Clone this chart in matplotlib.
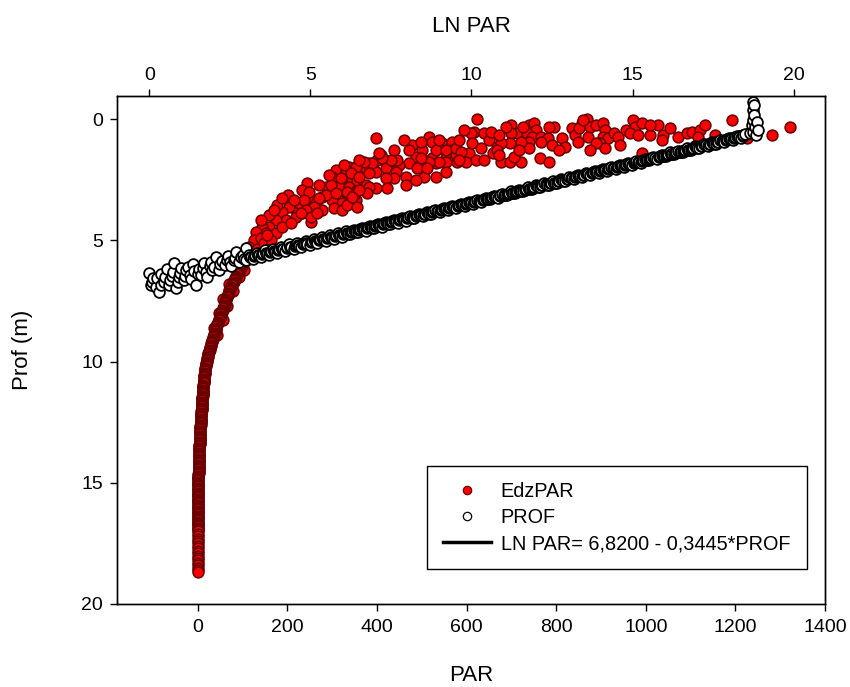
import matplotlib

matplotlib.use("Agg")
import matplotlib.pyplot as plt
from matplotlib.lines import Line2D

plt.rcParams["font.family"] = ["Liberation Sans", "DejaVu Sans"]

# EdzPAR (red): PAR on the bottom axis vs depth (m)
# surface cloud, depth < ~5.5 m
cloud_par = [
    201, 244, 233, 248, 309, 331, 349, 300, 322, 344, 286, 315, 338, 356, 333, 353, 322, 300, 277, 264,
    242, 219, 204, 188, 219, 197, 174, 159, 143, 130, 152, 174, 188, 208, 233, 255, 277, 304, 322, 125,
    141, 114, 132, 148, 163, 159, 177, 226, 253,
    398, 624, 617, 640, 611, 517, 523, 479, 501, 499, 546, 568, 566, 555, 577, 590, 606, 613, 633, 651,
    658, 667, 523, 532, 512, 488, 472, 450, 427, 409, 400, 382, 376, 394, 420, 443, 555, 579, 599, 622,
    640, 555, 532, 505, 465, 465, 438, 420, 398, 423, 398, 376, 356, 338, 320, 297, 286, 309, 333, 349,
    333, 271, 259, 248, 237, 242, 253, 230, 266,
    532, 555, 577, 588, 584, 539, 517, 499, 445, 432, 412, 405, 389, 371, 353, 342, 360, 382, 490, 512,
    488, 382, 378, 360, 356, 344,
    700, 740, 751, 756, 713, 700, 734, 747, 767, 781, 796, 812, 836, 841, 857, 868, 852, 875, 890, 870,
    904, 908, 904, 915, 930, 937, 897, 908, 848, 819, 790, 767, 740, 740, 722, 696, 678, 655, 667, 678,
    696, 722, 707, 673, 763, 785, 957, 971, 975, 991, 964, 982, 1009, 1027, 1038, 1036, 1071, 1091, 991, 1103,
    1121, 1116, 1192, 1282, 1322, 1226, 689, 725, 785, 859, 890,
    188, 170, 141, 154, 215, 271, 293, 327, 360, 438, 472, 461, 539, 584, 595, 673, 718, 807, 875, 942,
    1009, 1053, 1132, 1154,
]
cloud_depth = [
    3.12, 2.62, 2.91, 3.20, 2.09, 2.09, 2.21, 2.38, 2.50, 2.50, 2.79, 2.79, 2.79, 2.91, 3.12, 3.32, 3.45, 3.32, 3.20, 3.45,
    3.61, 3.74, 3.61, 3.82, 4.02, 4.15, 4.15, 4.44, 4.44, 4.64, 4.68, 4.68, 4.44, 4.27, 3.86, 3.82, 3.74, 3.65, 3.74, 4.97,
    4.89, 5.26, 5.37, 5.10, 4.97, 3.94, 3.53, 3.45, 4.23,
    0.77, 0.00, 0.52, 0.56, 0.56, 0.73, 0.94, 1.06, 1.26, 0.94, 0.98, 0.94, 1.26, 1.39, 1.47, 1.39, 1.39, 0.98, 1.18, 0.85,
    1.39, 1.14, 1.59, 1.80, 1.88, 1.55, 1.80, 1.88, 1.76, 1.47, 1.68, 1.80, 2.01, 2.09, 2.01, 2.17, 1.76, 1.76, 1.76, 1.68,
    1.68, 2.17, 2.38, 2.38, 2.38, 2.71, 2.42, 2.42, 2.17, 2.83, 2.83, 2.71, 2.50, 1.96, 2.42, 2.71, 3.12, 3.04, 2.99, 3.12,
    3.53, 3.24, 3.61, 2.99, 3.32, 3.74, 4.02, 3.86, 3.86,
    1.26, 1.26, 1.18, 1.35, 1.68, 1.76, 1.76, 1.59, 1.68, 1.68, 1.59, 1.39, 1.80, 1.76, 1.96, 2.21, 2.38, 2.21, 2.01, 2.01,
    2.50, 2.79, 3.04, 2.91, 3.61, 3.20,
    0.23, 0.23, 0.15, 0.44, 0.56, 0.56, 0.56, 0.73, 0.73, 0.77, 0.32, 0.77, 0.36, 0.65, 0.15, 0.00, 0.36, 0.32, 0.23, 0.73,
    0.15, 0.44, 0.73, 0.77, 0.56, 0.73, 0.98, 1.18, 0.94, 1.14, 1.06, 0.94, 0.94, 1.18, 0.94, 0.98, 0.98, 0.52, 1.26, 1.76,
    1.76, 1.76, 1.55, 1.47, 1.59, 1.76, 0.44, 0.03, 0.32, 0.15, 0.56, 0.65, 0.65, 0.23, 0.65, 0.85, 0.73, 0.56, 1.39, 0.52,
    0.44, 0.73, 0.03, 0.65, 0.32, 0.77, 0.32, 0.32, 0.32, 0.03, 0.98,
    3.24, 3.74, 4.15, 4.77, 3.32, 2.71, 2.29, 1.88, 1.68, 1.26, 1.26, 0.85, 0.85, 0.85, 0.44, 0.65, 1.26, 1.26, 1.26, 1.06,
    0.23, 0.36, 0.23, 0.65,
]

# deep tail of the profile
tail_depth = [
    5.4, 5.5, 5.6, 5.7, 5.8, 5.9, 6.0, 6.1, 6.2, 6.3, 6.4, 6.5, 6.6, 6.7, 6.8, 6.9,
    7.0, 7.1, 7.2, 7.3, 7.4, 7.5, 7.6, 7.7, 7.8, 7.9, 8.0, 8.1, 8.2, 8.3, 8.4, 8.5,
    8.6, 8.7, 8.8, 8.9, 9.0, 9.1, 9.2, 9.3, 9.4, 9.5, 9.6, 9.7, 9.8, 9.9, 10.0, 10.1,
    10.2, 10.3, 10.4, 10.5, 10.6, 10.7, 10.8, 10.9, 11.0, 11.1, 11.2, 11.3, 11.4, 11.5, 11.6, 11.7,
    11.8, 11.9, 12.0, 12.1, 12.2, 12.3, 12.4, 12.5, 12.6, 12.7, 12.8, 12.9, 13.0, 13.1, 13.2, 13.3,
    13.4, 13.5, 13.6, 13.7, 13.8, 13.9, 14.0, 14.1, 14.2, 14.3, 14.4, 14.5, 14.6, 14.7, 14.8, 14.9,
    15.0, 15.1, 15.2, 15.3, 15.4, 15.5, 15.6, 15.7, 15.8, 15.9, 16.0, 16.1, 16.2, 16.3, 16.4, 16.5,
    16.6, 16.7, 16.8, 16.9, 17.0, 17.1, 17.2, 17.3, 17.4, 17.5, 17.6, 17.7, 17.8, 17.9, 18.0, 18.1,
    18.2, 18.3, 18.4, 18.5, 18.6, 18.7,
]
tail_par = [
    116, 114, 112, 110, 107, 103, 100, 97, 94, 91, 88, 85, 83, 80, 77, 75,
    72, 70, 68, 66, 64, 62, 61, 59, 57, 55, 53, 51, 49, 47, 45, 43,
    41, 40, 38, 37, 35, 33, 31, 30, 28, 27, 25, 24, 22, 21, 20, 19,
    18, 17, 16.5, 16, 15, 14.5, 14, 13.5, 13, 12.5, 12, 11.5, 11, 10.6, 10.2, 9.8,
    9.4, 9, 8.6, 8.3, 8, 7.6, 7.3, 7, 6.6, 6.3, 6, 5.7, 5.4, 5.1, 4.8, 4.5,
    4.2, 4, 3.7, 3.4, 3.2, 3, 2.8, 2.6, 2.4, 2.3, 2.1, 2, 1.9, 1.8, 1.7, 1.6,
    1.5, 1.4, 1.3, 1.2, 1.1, 1.0, 1.0, 0.9, 0.9, 0.8, 0.8, 0.8, 0.7, 0.7, 0.7, 0.6,
    0.6, 0.6, 0.5, 0.5, 0.5, 0.5, 0.5, 0.4, 0.4, 0.4, 0.4, 0.4, 0.4, 0.3, 0.3, 0.3,
    0.3, 0.3, 0.3, 0.3, 0.3, 0.3,
]
# readings between the above along the same dense trace
tail_mid_depth = [
    5.45, 5.55, 5.65, 5.75, 5.85, 5.95, 6.05, 6.15, 6.25, 6.35, 6.45, 6.55, 6.65, 6.75, 6.85, 6.95,
    7.05, 7.15, 7.25, 7.35, 7.45, 7.55, 7.65, 7.75, 7.85, 7.95, 8.05, 8.15, 8.25, 8.35, 8.45, 8.55,
    8.65, 8.75, 8.85, 8.95, 9.05, 9.15, 9.25, 9.35, 9.45, 9.55, 9.65, 9.75, 9.85, 9.95, 10.05, 10.15,
    10.25, 10.35, 10.45, 10.55, 10.65, 10.75, 10.85, 10.95, 11.05, 11.15, 11.25, 11.35, 11.45, 11.55, 11.65, 11.75,
    11.85, 11.95, 12.05, 12.15, 12.25, 12.35, 12.45, 12.55, 12.65, 12.75, 12.85, 12.95, 13.05, 13.15, 13.25, 13.35,
    13.45, 13.55, 13.65, 13.75, 13.85, 13.95, 14.05, 14.15, 14.25, 14.35, 14.45, 14.55, 14.65, 14.75, 14.85, 14.95,
    15.05, 15.15, 15.25, 15.35, 15.45, 15.55, 15.65, 15.75, 15.85, 15.95, 16.05, 16.15, 16.25, 16.35, 16.45, 16.55,
    16.65, 16.75, 16.85, 16.95,
]
tail_mid_par = [
    115, 113, 111, 108, 105, 101, 98, 95, 92, 89, 86, 84, 81, 78, 76, 73,
    71, 69, 67, 65, 63, 61, 60, 58, 56, 54, 52, 50, 48, 46, 44, 42,
    40, 39, 37, 36, 34, 32, 30, 29, 27, 26, 24, 23, 21, 20, 19, 18,
    17, 16.5, 16, 15, 14.5, 14, 13.5, 13, 12.5, 12, 11.5, 11, 10.5, 10.2, 9.8, 9.4,
    9, 8.6, 8.3, 8, 7.6, 7.3, 7, 6.6, 6.3, 6, 5.7, 5.4, 5.1, 4.8, 4.5, 4.2,
    4, 3.7, 3.4, 3.2, 3, 2.8, 2.6, 2.4, 2.3, 2.1, 2, 1.9, 1.8, 1.7, 1.6, 1.5,
    1.4, 1.3, 1.2, 1.1, 1.0, 1.0, 0.9, 0.9, 0.8, 0.8, 0.8, 0.7, 0.7, 0.7, 0.6, 0.6,
    0.6, 0.5, 0.5, 0.5,
]
tail_side_depth = [6.2, 6.5, 6.8, 7.1, 7.4, 7.7, 8.0, 8.3, 8.6, 8.9]
tail_side_par = [104, 92, 70, 78, 57, 66, 47, 56, 36, 44]

# PROF (open circles): top axis (LN PAR scale) vs the depth axis
prof_x = [
    0.00, 0.05, 0.12, 0.20, 0.31, 0.38, 0.45, 0.55, 0.62, 0.70, 0.78, 0.84, 0.92, 1.00, 1.08, 1.15,
    1.25, 1.35, 1.46, 1.55, 1.62, 1.70, 1.80, 1.88, 1.95, 2.08, 2.15, 2.25, 2.35, 2.45, 2.55, 2.62,
    2.70, 2.80, 2.90, 3.01, 3.01,
    3.10, 3.22, 3.35, 3.48, 3.60, 3.72, 3.85, 3.98, 4.10, 4.22, 4.35, 4.48, 4.60, 4.72, 4.85, 4.98,
    5.10, 5.22, 5.35, 5.48, 5.60, 5.72, 5.85, 5.98, 6.10, 6.22, 6.35, 6.48, 6.60, 6.72, 6.85, 6.98,
    7.10, 7.22, 7.35, 7.48, 7.60, 7.72, 7.85, 7.98,
    8.10, 8.23, 8.36, 8.49, 8.62, 8.75, 8.88, 9.01, 9.14, 9.27, 9.40, 9.53, 9.66, 9.79, 9.92, 10.05,
    10.18, 10.31, 10.44, 10.57, 10.70, 10.83, 10.96, 11.09, 11.22, 11.35, 11.48, 11.61, 11.74, 11.87, 12.00, 12.13,
    12.26, 12.39, 12.52, 12.65, 12.78, 12.91, 13.04, 13.17, 13.30, 13.43, 13.56, 13.69, 13.82, 13.95, 14.08, 14.21,
    14.34, 14.47, 14.60, 14.73, 14.86, 14.99, 15.12, 15.25, 15.38, 15.51, 15.64, 15.77, 15.90, 16.03, 16.16, 16.29,
    16.42, 16.55, 16.68, 16.81, 16.94, 17.07, 17.20, 17.33, 17.46, 17.59, 17.72, 17.85, 17.98, 18.11, 18.24, 18.37,
    18.50,
    18.76, 18.73, 18.76, 18.73, 18.85, 18.70, 18.79, 18.88, 18.73, 18.63, 18.82, 18.75,
]
prof_y = [
    6.33, 6.82, 6.56, 6.93, 7.11, 6.38, 6.70, 6.17, 6.82, 6.47, 5.92, 6.95, 6.50, 6.12, 6.65, 6.23,
    6.44, 5.96, 6.82, 6.19, 6.42, 5.95, 6.50, 6.04, 6.21, 5.67, 6.20, 5.85, 6.01, 5.65, 6.05, 5.80,
    5.47, 5.89, 5.60, 5.80, 5.30,
    5.59, 5.77, 5.51, 5.67, 5.41, 5.59, 5.35, 5.52, 5.26, 5.42, 5.16, 5.34, 5.10, 5.28, 5.02, 5.18,
    4.92, 5.10, 4.86, 5.01, 4.77, 4.94, 4.69, 4.85, 4.63, 4.75, 4.55, 4.67, 4.47, 4.59, 4.39, 4.50,
    4.31, 4.43, 4.22, 4.34, 4.14, 4.26, 4.06, 4.18,
    4.00, 4.08, 3.91, 3.99, 3.83, 3.91, 3.75, 3.82, 3.66, 3.74, 3.58, 3.65, 3.49, 3.57, 3.41, 3.48,
    3.32, 3.40, 3.24, 3.31, 3.15, 3.23, 3.07, 3.14, 2.98, 3.06, 2.90, 2.98, 2.81, 2.89, 2.73, 2.81,
    2.64, 2.72, 2.56, 2.64, 2.47, 2.55, 2.39, 2.47, 2.30, 2.38, 2.22, 2.30, 2.13, 2.21, 2.05, 2.13,
    1.97, 2.04, 1.88, 1.96, 1.80, 1.87, 1.71, 1.79, 1.63, 1.70, 1.54, 1.62, 1.46, 1.53, 1.37, 1.45,
    1.29, 1.36, 1.20, 1.28, 1.12, 1.20, 1.03, 1.11, 0.95, 1.03, 0.86, 0.94, 0.78, 0.86, 0.69, 0.77,
    0.61,
    -0.59, -0.38, -0.18, 0.03, 0.11, 0.23, 0.32, 0.44, 0.52, 0.56, 0.65, -0.72,
]
# further PROF readings packed along the same band
prof_mid_x = [
    0.10, 0.25, 0.35, 0.50, 0.66, 0.75, 0.88, 0.96, 1.12, 1.20, 1.30, 1.40, 1.50, 1.66, 1.75, 1.92,
    2.02, 2.20, 2.40, 2.50, 2.66, 2.85, 2.95,
    3.16, 3.29, 3.41, 3.54, 3.66, 3.79, 3.91, 4.04, 4.16, 4.29, 4.41, 4.54, 4.66, 4.79, 4.91, 5.04,
    5.16, 5.29, 5.41, 5.54, 5.66, 5.79, 5.91, 6.04, 6.16, 6.29, 6.41, 6.54, 6.66, 6.79, 6.91, 7.04,
    7.16, 7.29, 7.41, 7.54, 7.66, 7.79, 7.91, 8.04,
    8.17, 8.30, 8.43, 8.56, 8.69, 8.82, 8.95, 9.08, 9.21, 9.34, 9.47, 9.60, 9.73, 9.86, 9.99, 10.12,
    10.25, 10.38, 10.51, 10.64, 10.77, 10.90, 11.03, 11.16, 11.29, 11.42, 11.55, 11.68, 11.81, 11.94, 12.07, 12.20,
    12.33, 12.46, 12.59, 12.72, 12.85, 12.98, 13.11, 13.24, 13.37, 13.50, 13.63, 13.76, 13.89, 14.02, 14.15, 14.28,
    14.41, 14.54, 14.67, 14.80, 14.93, 15.06, 15.19, 15.32, 15.45, 15.58, 15.71, 15.84, 15.97, 16.10, 16.23, 16.36,
    16.49, 16.62, 16.75, 16.88, 17.01, 17.14, 17.27, 17.40, 17.53, 17.66, 17.79, 17.92, 18.05, 18.18, 18.31, 18.44,
]
prof_mid_y = [
    6.70, 6.55, 6.85, 6.50, 6.62, 6.30, 6.72, 6.35, 6.45, 6.10, 6.60, 6.28, 6.40, 6.15, 6.30, 5.90,
    6.08, 5.98, 5.82, 5.90, 5.72, 5.70, 5.75,
    5.70, 5.60, 5.62, 5.52, 5.54, 5.43, 5.46, 5.35, 5.37, 5.27, 5.29, 5.19, 5.21, 5.11, 5.13, 5.03,
    5.05, 4.95, 4.97, 4.86, 4.88, 4.78, 4.80, 4.70, 4.72, 4.62, 4.64, 4.54, 4.56, 4.46, 4.48, 4.37,
    4.40, 4.29, 4.31, 4.21, 4.23, 4.13, 4.15, 4.05,
    4.06, 3.97, 3.97, 3.89, 3.89, 3.80, 3.80, 3.72, 3.72, 3.63, 3.63, 3.55, 3.55, 3.47, 3.46, 3.38,
    3.38, 3.30, 3.29, 3.21, 3.21, 3.13, 3.12, 3.04, 3.04, 2.96, 2.95, 2.87, 2.87, 2.79, 2.78, 2.70,
    2.70, 2.62, 2.61, 2.53, 2.53, 2.45, 2.44, 2.36, 2.36, 2.28, 2.27, 2.19, 2.19, 2.11, 2.10, 2.02,
    2.02, 1.94, 1.93, 1.85, 1.85, 1.77, 1.76, 1.68, 1.68, 1.60, 1.59, 1.51, 1.51, 1.43, 1.42, 1.34,
    1.34, 1.26, 1.25, 1.17, 1.17, 1.09, 1.08, 1.00, 1.00, 0.92, 0.91, 0.83, 0.83, 0.75, 0.74, 0.66,
]
prof_fill_x = [
    3.13, 3.26, 3.38, 3.51, 3.63, 3.76, 3.88, 4.01, 4.13, 4.26, 4.38, 4.51, 4.63, 4.76, 4.88, 5.01,
    5.13, 5.26, 5.38, 5.51, 5.63, 5.76, 5.88, 6.01, 6.13, 6.26, 6.38, 6.51, 6.63, 6.76, 6.88, 7.01,
    7.13, 7.26, 7.38, 7.51, 7.63, 7.76, 7.88, 8.01,
    8.14, 8.27, 8.40, 8.53, 8.66, 8.79, 8.92, 9.05, 9.18, 9.31, 9.44, 9.57, 9.70, 9.83, 9.96, 10.09,
    10.22, 10.35, 10.48, 10.61, 10.74, 10.87, 11.00, 11.13, 11.26, 11.39, 11.52, 11.65, 11.78, 11.91, 12.04, 12.17,
    12.30, 12.43, 12.56, 12.69, 12.82, 12.95, 13.08, 13.21, 13.34, 13.47, 13.60, 13.73, 13.86, 13.99, 14.12, 14.25,
    14.38, 14.51, 14.64, 14.77, 14.90, 15.03, 15.16, 15.29, 15.42, 15.55, 15.68, 15.81, 15.94, 16.07, 16.20, 16.33,
    16.46, 16.59, 16.72, 16.85, 16.98, 17.11, 17.24, 17.37, 17.50, 17.63, 17.76, 17.89, 18.02, 18.15, 18.28, 18.41,
]
prof_fill_y = [
    5.68, 5.64, 5.60, 5.56, 5.52, 5.47, 5.44, 5.39, 5.35, 5.31, 5.27, 5.23, 5.19, 5.15, 5.11, 5.07,
    5.03, 4.99, 4.95, 4.90, 4.86, 4.82, 4.78, 4.74, 4.70, 4.66, 4.62, 4.58, 4.54, 4.50, 4.46, 4.41,
    4.38, 4.33, 4.29, 4.25, 4.21, 4.17, 4.13, 4.09,
    4.05, 4.00, 3.96, 3.92, 3.88, 3.83, 3.79, 3.75, 3.71, 3.66, 3.62, 3.58, 3.54, 3.50, 3.45, 3.41,
    3.37, 3.33, 3.28, 3.24, 3.20, 3.16, 3.11, 3.07, 3.03, 2.99, 2.94, 2.90, 2.86, 2.82, 2.77, 2.73,
    2.69, 2.65, 2.61, 2.56, 2.52, 2.48, 2.44, 2.39, 2.35, 2.31, 2.27, 2.22, 2.18, 2.14, 2.10, 2.05,
    2.01, 1.97, 1.93, 1.88, 1.84, 1.80, 1.76, 1.72, 1.67, 1.63, 1.59, 1.55, 1.50, 1.46, 1.42, 1.38,
    1.33, 1.29, 1.25, 1.21, 1.16, 1.12, 1.08, 1.04, 0.99, 0.95, 0.91, 0.87, 0.83, 0.78, 0.74, 0.70,
]

# regression shown in the legend: LN PAR = 6,8200 - 0,3445*PROF
FIT_INTERCEPT = 6.8200
FIT_SLOPE = -0.3445
fit_x = [0.0, 18.9]

par_ticks = [0, 200, 400, 600, 800, 1000, 1200, 1400]
ln_ticks = [0, 5, 10, 15, 20]
depth_ticks = [0, 5, 10, 15, 20]

RED = "#ff0000"
RED_EDGE = "#6a0000"
MS = 60

# draw each profile in sampling order so the overlapping rims build up like the original
tail = sorted(zip(tail_depth + tail_mid_depth, tail_par + tail_mid_par))
prof = sorted(zip(prof_x + prof_mid_x + prof_fill_x, prof_y + prof_mid_y + prof_fill_y))

fig = plt.figure(figsize=(8.5, 6.87), dpi=100)
ax = fig.add_axes([117 / 850, 83 / 687, 708 / 850, 508 / 687])

red_kw = dict(s=MS, c=RED, edgecolors=RED_EDGE, linewidths=1.15, zorder=3)
ax.scatter(tail_side_par, tail_side_depth, **red_kw)
ax.scatter([p for d, p in tail], [d for d, p in tail], **red_kw)
ax.scatter(cloud_par, cloud_depth, **red_kw)
ax.set_xlim(-180, 1400)
ax.set_ylim(20, -0.96)
ax.set_xticks(par_ticks)
ax.set_yticks(depth_ticks)

ax2 = ax.twiny()
fit_y = [FIT_INTERCEPT + FIT_SLOPE * x for x in fit_x]
ax2.plot(fit_x, fit_y, color="black", lw=2, zorder=2)
ax2.scatter([x for x, y in prof], [y for x, y in prof], s=MS, facecolors="white",
            edgecolors="black", linewidths=1.3, zorder=3)
ax2.set_xlim(-1.0, 20.97)
ax2.set_xticks(ln_ticks)

for a in (ax, ax2):
    for spine in a.spines.values():
        spine.set_linewidth(1.0)
ax.tick_params(axis="x", direction="out", length=5, width=1, labelsize=14, pad=6)
ax.tick_params(axis="y", direction="out", length=5, width=1, labelsize=14, pad=5)
ax2.tick_params(axis="x", direction="out", length=5, width=1, labelsize=14, pad=4)

ax.set_xlabel("PAR", fontsize=16)
ax.xaxis.set_label_coords(0.5, -0.14)
ax.xaxis.label.set_va("center")
ax2.set_xlabel("LN PAR", fontsize=16)
ax2.xaxis.set_label_coords(0.5, 1.136)
ax2.xaxis.label.set_va("center")
ax.set_ylabel("Prof (m)", fontsize=16)
ax.yaxis.set_label_coords(-0.134, 0.5)
ax.yaxis.label.set_va("center")

handles = [
    Line2D([], [], ls="none", marker="o", ms=6, mfc=RED, mec=RED_EDGE, mew=0.9),
    Line2D([], [], ls="none", marker="o", ms=6, mfc="white", mec="black", mew=0.9),
    Line2D([], [], color="black", lw=2.5),
]
labels = ["EdzPAR", "PROF", "LN PAR= 6,8200 - 0,3445*PROF"]
leg = ax2.legend(handles, labels, loc="upper left", bbox_to_anchor=(0.438, 0.072, 0.537, 0.2),
                 mode="expand", borderaxespad=0, frameon=True, fancybox=False, framealpha=1,
                 edgecolor="black", fontsize=14.3, handlelength=2.4, handletextpad=0.5,
                 labelspacing=0.36, borderpad=0.8)
leg.get_frame().set_linewidth(1.0)

fig.savefig("out.png", dpi=100)
